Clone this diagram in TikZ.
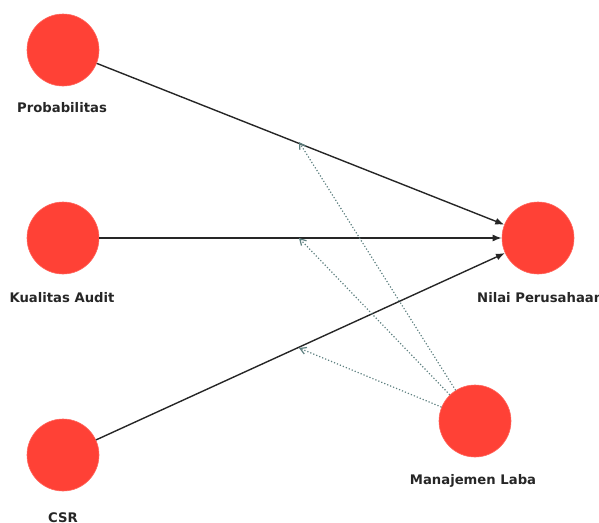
\documentclass[tikz,border=0pt]{standalone}
\usepackage{fontspec}
\setsansfont{DejaVu Sans}
\usetikzlibrary{arrows.meta}

\definecolor{latent}{HTML}{FF4136}
\definecolor{modline}{HTML}{5E8080}

\tikzset{
  construct/.style={circle,fill=latent,draw=latent!80!white,line width=0.6pt,minimum size=72pt,inner sep=0pt},
  clabel/.style={font=\sffamily\bfseries\fontsize{13.2}{15}\selectfont,text=black!85,inner sep=0pt},
  path/.style={line width=1.4pt,black!85,-{Latex[length=9pt,width=7pt]}},
  moder/.style={line width=1.2pt,modline,dotted,-{Straight Barb[length=6pt,width=7pt]}}
}

\begin{document}
\begin{tikzpicture}[x=1pt,y=-1pt]
\useasboundingbox (0,0) rectangle (599,522);

% konstruk
\node[construct] (P) at (63,50) {};
\node[construct] (K) at (63,238) {};
\node[construct] (C) at (63,455) {};
\node[construct] (N) at (538,238) {};
\node[construct] (M) at (475,421) {};

\node[clabel] at (62,108) {Probabilitas};
\node[clabel] at (62,298) {Kualitas Audit};
\node[clabel] at (63,518) {CSR};
\node[clabel,anchor=west] at (477,298) {Nilai Perusahaan};
\node[clabel] at (473,481) {Manajemen Laba};

% jalur langsung
\draw[path] (P) -- (N);
\draw[path] (K) -- (N);
\draw[path] (C) -- (N);

% efek moderasi
\coordinate (tP) at (299,142);
\coordinate (tK) at (299,238);
\coordinate (tC) at (299,348);
\draw[moder] (M) -- (tP);
\draw[moder] (M) -- (tK);
\draw[moder] (M) -- (tC);

\end{tikzpicture}
\end{document}
